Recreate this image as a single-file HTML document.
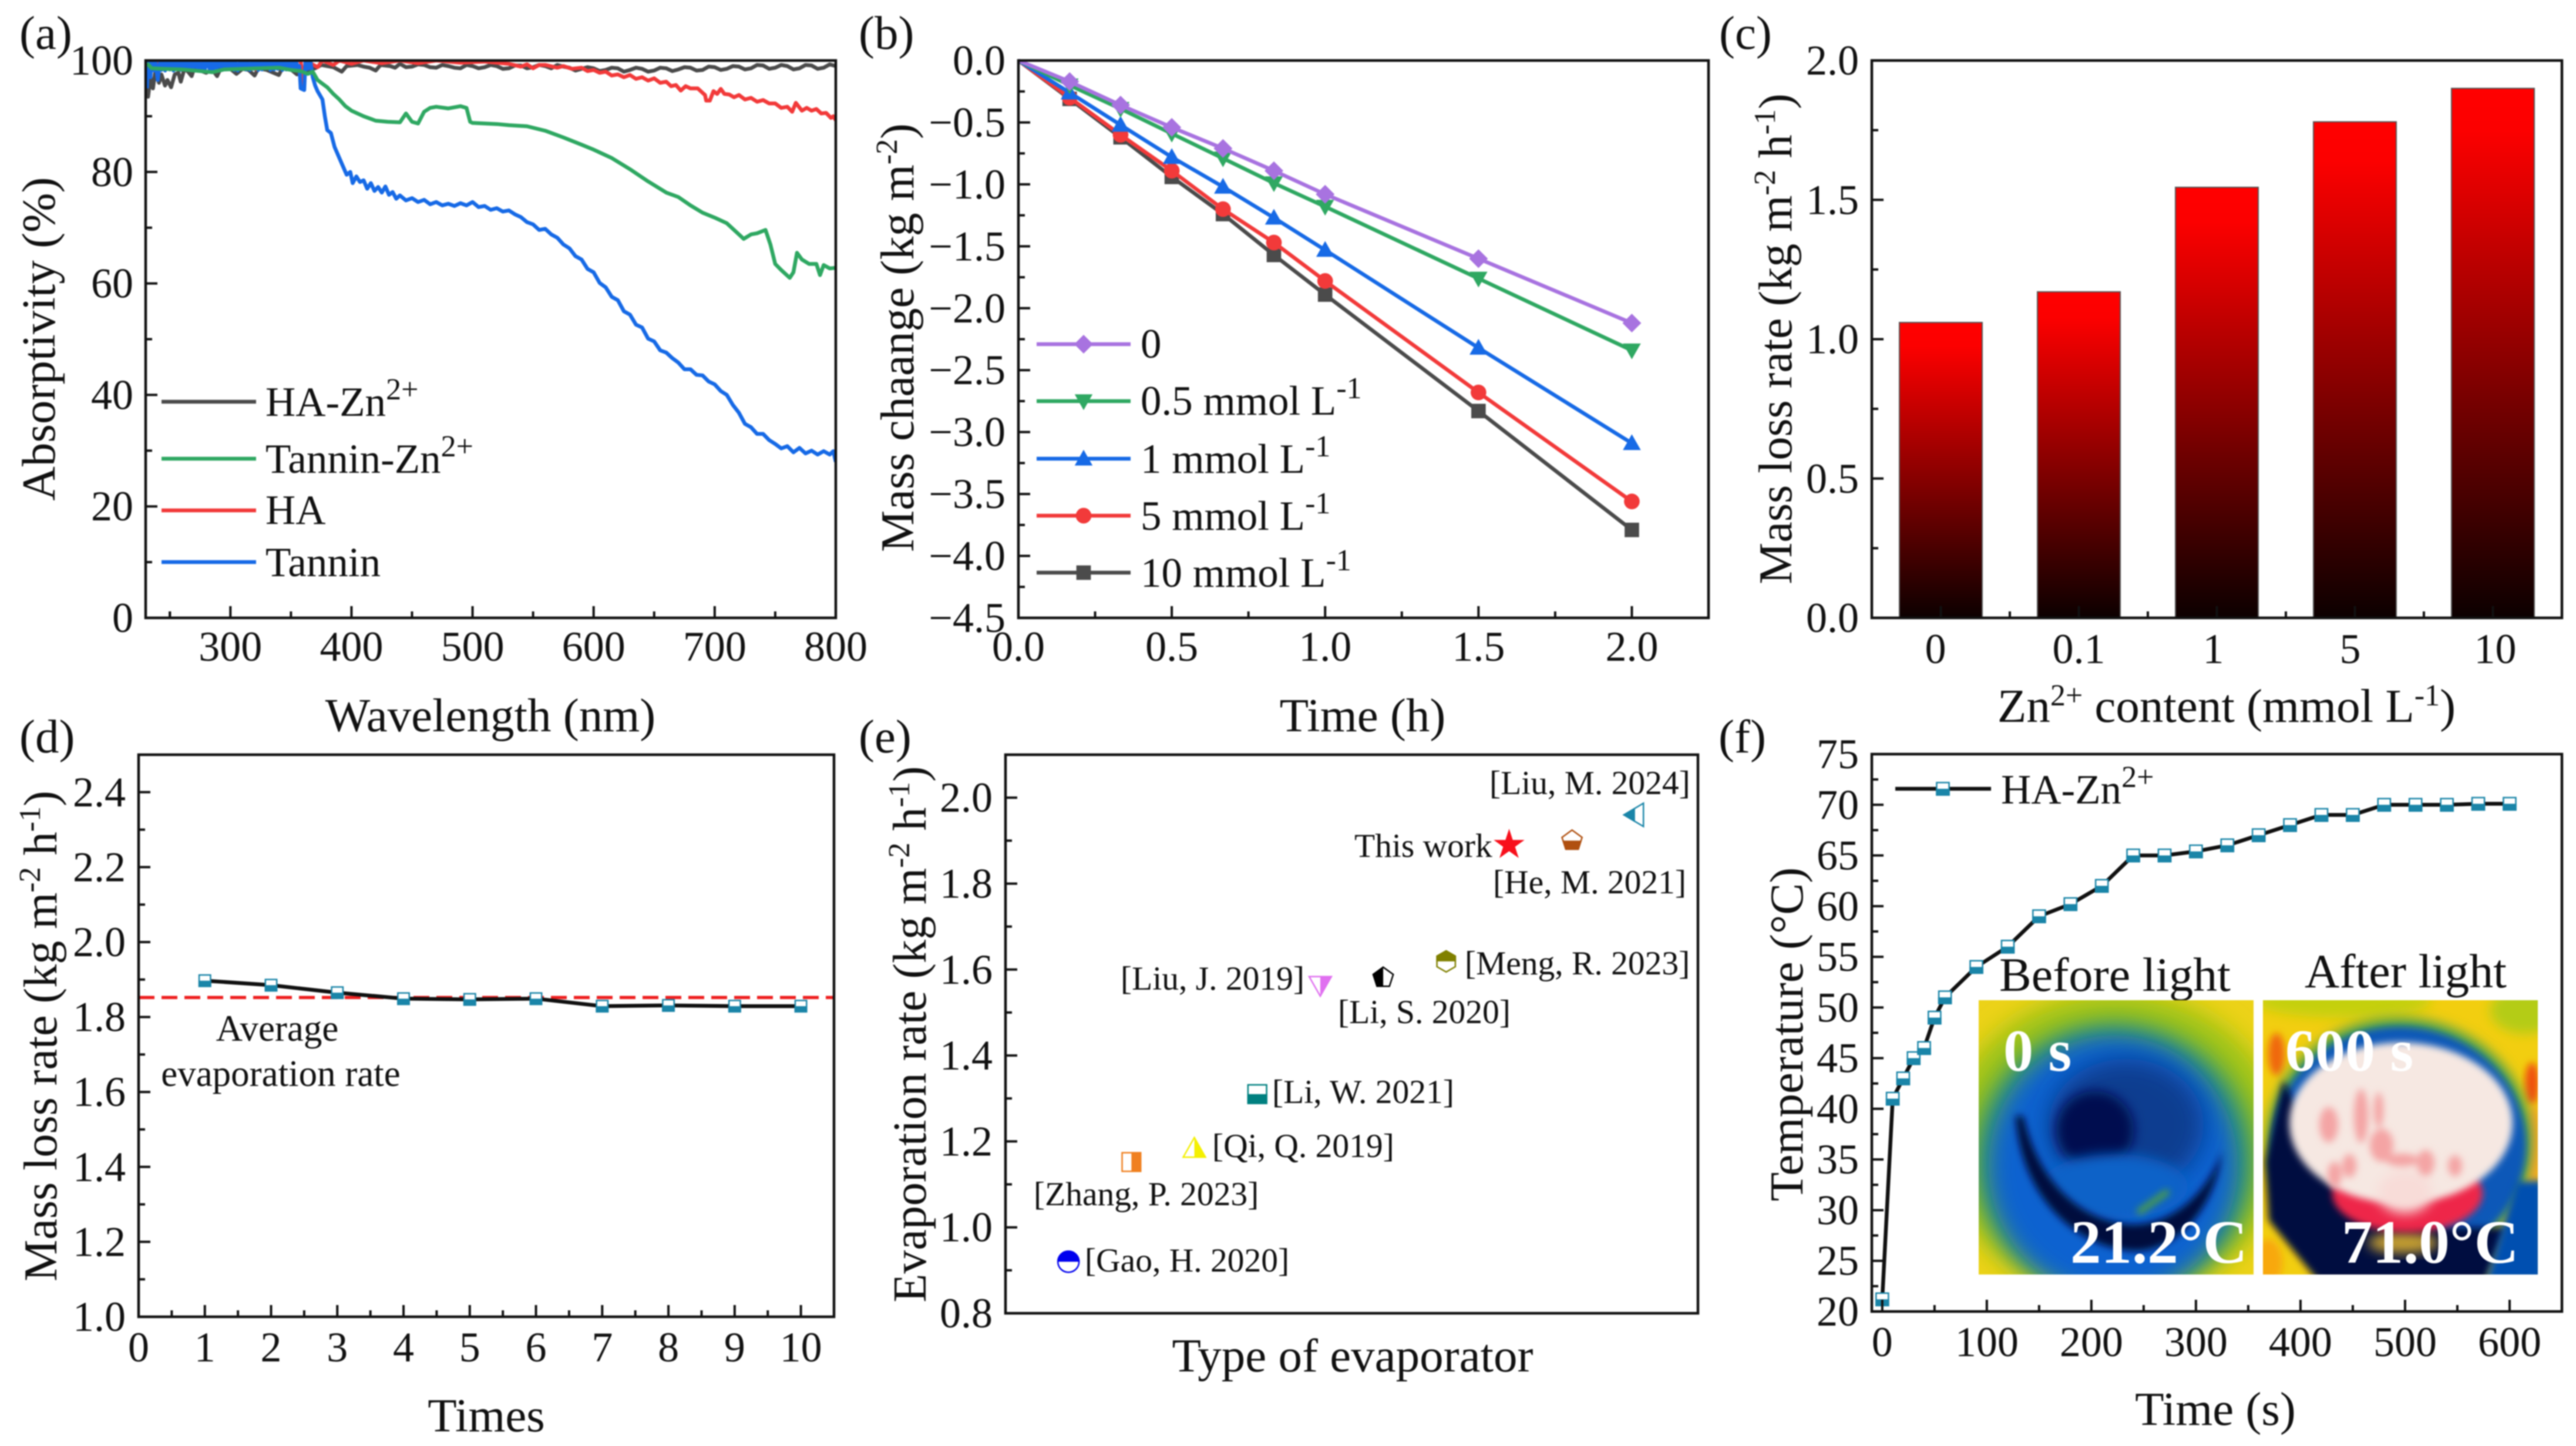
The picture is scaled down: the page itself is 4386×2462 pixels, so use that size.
<!DOCTYPE html>
<html lang="en">
<head>
<meta charset="utf-8">
<title>Evaporator performance figure</title>
<style>
html,body{margin:0;padding:0;background:#fff;width:4386px;height:2462px;overflow:hidden}
svg{display:block;font-family:"Liberation Serif",serif;fill:#111;filter:blur(1px)}
.t{font-size:81px}.s{font-size:52px}.l{font-size:71px}.e{font-size:57.5px}.a{font-size:63px}.h{font-size:105px;font-weight:bold;fill:#fff}
</style>
</head>
<body>
<svg id="chart-root" xmlns="http://www.w3.org/2000/svg" width="4386" height="2462" viewBox="0 0 4386 2462">
<defs>
<linearGradient id="barFill" x1="0" y1="0" x2="0" y2="1"><stop offset="0" stop-color="#ff0000"/><stop offset=".08" stop-color="#fc0000"/><stop offset="1" stop-color="#0c0000"/></linearGradient>
<filter id="b3" x="-30%" y="-30%" width="160%" height="160%"><feGaussianBlur stdDeviation="3"/></filter>
<filter id="b5" x="-30%" y="-30%" width="160%" height="160%"><feGaussianBlur stdDeviation="6"/></filter>
<filter id="b10" x="-30%" y="-30%" width="160%" height="160%"><feGaussianBlur stdDeviation="10"/></filter>
<filter id="b20" x="-30%" y="-30%" width="160%" height="160%"><feGaussianBlur stdDeviation="20"/></filter>
<clipPath id="clipBefore"><rect x="3369" y="1703" width="468" height="467"/></clipPath>
<clipPath id="clipAfter"><rect x="3853" y="1703" width="468" height="467"/></clipPath>
<clipPath id="clipA"><rect x="248" y="103" width="1175" height="949"/></clipPath>
</defs>
<rect width="4386" height="2462" fill="#fff"/>
<g id="marks"></g>

<!-- panel a text -->
<text class="t" x="33" y="83">(a)</text>
<text class="t" text-anchor="middle" transform="translate(93,577) rotate(-90)">Absorptivity (%)</text>
<text class="t" text-anchor="middle" x="835" y="1245">Wavelength (nm)</text>
<text class="l" x="452" y="708">HA-Zn<tspan class="s" dy="-28">2+</tspan></text>
<text class="l" x="452" y="805">Tannin-Zn<tspan class="s" dy="-28">2+</tspan></text>
<text class="l" x="452" y="892">HA</text>
<text class="l" x="452" y="981">Tannin</text>

<!-- panel b text -->
<text class="t" x="1462" y="83">(b)</text>
<text class="t" text-anchor="middle" transform="translate(1555,575) rotate(-90)" style="font-size:80px">Mass chaange (kg m<tspan class="s" dy="-28">-2</tspan><tspan dy="28">)</tspan></text>
<text class="t" text-anchor="middle" x="2320" y="1245">Time (h)</text>
<text class="l" x="1942" y="609">0</text>
<text class="l" x="1942" y="706">0.5 mmol L<tspan class="s" dy="-28">-1</tspan></text>
<text class="l" x="1942" y="805">1 mmol L<tspan class="s" dy="-28">-1</tspan></text>
<text class="l" x="1942" y="902">5 mmol L<tspan class="s" dy="-28">-1</tspan></text>
<text class="l" x="1942" y="999">10 mmol L<tspan class="s" dy="-28">-1</tspan></text>

<!-- panel c text -->
<text class="t" x="2927" y="83">(c)</text>
<text class="t" text-anchor="middle" transform="translate(3050,577) rotate(-90)" style="font-size:80px">Mass loss rate (kg m<tspan class="s" dy="-28">-2</tspan><tspan dy="28"> h</tspan><tspan class="s" dy="-28">-1</tspan><tspan dy="28">)</tspan></text>
<text class="t" text-anchor="middle" x="3791" y="1229">Zn<tspan class="s" dy="-28">2+</tspan><tspan dy="28"> content (mmol L</tspan><tspan class="s" dy="-28">-1</tspan><tspan dy="28">)</tspan></text>

<!-- panel d text -->
<text class="t" x="33" y="1281">(d)</text>
<text class="t" text-anchor="middle" transform="translate(96,1764) rotate(-90)" style="font-size:80px">Mass loss rate (kg m<tspan class="s" dy="-28">-2</tspan><tspan dy="28"> h</tspan><tspan class="s" dy="-28">-1</tspan><tspan dy="28">)</tspan></text>
<text class="t" text-anchor="middle" x="828" y="2437">Times</text>
<text class="a" text-anchor="middle" x="472" y="1772">Average</text>
<text class="a" text-anchor="middle" x="478" y="1849">evaporation rate</text>

<!-- panel e text -->
<text class="t" x="1462" y="1281">(e)</text>
<text class="t" text-anchor="middle" transform="translate(1576,1761) rotate(-90)" style="font-size:80px">Evaporation rate (kg m<tspan class="s" dy="-28">-2</tspan><tspan dy="28"> h</tspan><tspan class="s" dy="-28">-1</tspan><tspan dy="28">)</tspan></text>
<text class="t" text-anchor="middle" x="2303" y="2335">Type of evaporator</text>
<text class="e" x="2536" y="1352">[Liu, M. 2024]</text>
<text class="e" x="2306" y="1459">This work</text>
<text class="e" x="2542" y="1521">[He, M. 2021]</text>
<text class="e" x="2494" y="1659">[Meng, R. 2023]</text>
<text class="e" x="1908" y="1685">[Liu, J. 2019]</text>
<text class="e" x="2278" y="1742">[Li, S. 2020]</text>
<text class="e" x="2166" y="1878">[Li, W. 2021]</text>
<text class="e" x="2064" y="1970">[Qi, Q. 2019]</text>
<text class="e" x="1760" y="2052">[Zhang, P. 2023]</text>
<text class="e" x="1847" y="2165">[Gao, H. 2020]</text>

<!-- panel f text -->
<text class="t" x="2926" y="1281">(f)</text>
<text class="t" text-anchor="middle" transform="translate(3069,1761) rotate(-90)">Temperature (°C)</text>
<text class="t" text-anchor="middle" x="3772" y="2426">Time (s)</text>
<text class="l" x="3407" y="1368">HA-Zn<tspan class="s" dy="-28">2+</tspan></text>
<text class="t" x="3404" y="1687" style="font-size:82px">Before light</text>
<text class="t" x="3924" y="1681" style="font-size:82px">After light</text>

<!-- thermal images -->
<g clip-path="url(#clipBefore)">
<rect x="3369" y="1703" width="468" height="467" fill="#ecd218"/>
<ellipse cx="3601" cy="1950" rx="290" ry="262" fill="#a0c414" filter="url(#b20)"/>
<ellipse cx="3600" cy="1972" rx="240" ry="232" fill="#3f9f60" filter="url(#b20)"/>
<ellipse cx="3598" cy="1985" rx="212" ry="222" fill="#0a62d0" filter="url(#b20)"/>
<ellipse cx="3620" cy="1915" rx="132" ry="112" fill="#0a3e90" filter="url(#b20)"/>
<ellipse cx="3567" cy="1924" rx="66" ry="66" fill="#001050" filter="url(#b10)"/>
<ellipse cx="3600" cy="2020" rx="125" ry="55" fill="#0a62c8" filter="url(#b10)"/>
<path d="M3432 1900C3440 2040 3540 2130 3640 2130C3720 2125 3775 2040 3783 1960C3760 2030 3700 2085 3630 2085C3540 2080 3470 2010 3445 1900Z" fill="#00103c" filter="url(#b5)"/>
<path d="M3640 2065L3692 2028" fill="none" stroke="#50a040" stroke-width="10" filter="url(#b5)"/>
</g>
<text class="h" x="3411" y="1823" style="font-size:102px">0 s</text>
<text class="h" x="3525" y="2150">21.2°C</text>

<g clip-path="url(#clipAfter)">
<rect x="3853" y="1703" width="468" height="467" fill="#f2ce10"/>
<ellipse cx="3990" cy="1705" rx="150" ry="28" fill="#c4d010" filter="url(#b10)"/>
<ellipse cx="4300" cy="1720" rx="60" ry="40" fill="#b4cc14" filter="url(#b10)"/>
<ellipse cx="3876" cy="1795" rx="14" ry="36" fill="#f06810" filter="url(#b5)"/>
<ellipse cx="4311" cy="1845" rx="12" ry="36" fill="#f05010" filter="url(#b5)"/>
<ellipse cx="4314" cy="1950" rx="14" ry="70" fill="#f8a820" filter="url(#b5)"/>
<ellipse cx="3862" cy="2150" rx="24" ry="40" fill="#f8a810" filter="url(#b5)"/>
<ellipse cx="4085" cy="1945" rx="226" ry="212" fill="#48a050" filter="url(#b10)"/>
<ellipse cx="4085" cy="1950" rx="216" ry="202" fill="#0858b8" filter="url(#b5)"/>
<path d="M3888 1839L3857 1978L3863 2078L3946 2180L4233 2180L4270 2090L4150 2090L3950 1960Z" fill="#000840" filter="url(#b5)"/>
<path d="M4233 2180L4330 2180L4330 2010L4284 2012Z" fill="#0650b0" filter="url(#b5)"/>
<ellipse cx="4092" cy="2116" rx="60" ry="18" fill="#c8a030" filter="url(#b10)"/>
<ellipse cx="4099" cy="2032" rx="128" ry="66" fill="#ee2848" filter="url(#b5)"/>
<ellipse cx="4088" cy="1912" rx="190" ry="137" fill="#f6e8e2" filter="url(#b5)"/>
<ellipse cx="4095" cy="2030" rx="46" ry="36" fill="#f8dcd8" filter="url(#b10)"/>
<g fill="#f4a4a4" filter="url(#b5)">
<ellipse cx="3965" cy="1915" rx="16" ry="30"/><ellipse cx="4020" cy="1900" rx="12" ry="46"/><ellipse cx="4055" cy="1950" rx="20" ry="28"/><ellipse cx="4000" cy="1985" rx="12" ry="20"/><ellipse cx="4130" cy="1980" rx="15" ry="22"/><ellipse cx="3975" cy="2000" rx="12" ry="22"/><ellipse cx="4050" cy="1890" rx="8" ry="30"/><ellipse cx="4090" cy="1975" rx="28" ry="11"/><ellipse cx="4180" cy="1985" rx="12" ry="18"/>
</g>
</g>
<text class="h" x="3891" y="1823" style="font-size:102px">600 s</text>
<text class="h" x="3987" y="2150">71.0°C</text>
</svg>

<script>
// ---------- panel (a) data: [wavelength nm, absorptivity %] ----------
const haZnPoints = [[231,96],[232,93.5],[234,97],[236,95],[238,98],[241,96],[243,97.5],[246,95.5],[248,96.5],[251,95.2],[254,97.5],[257,97.8],[259,96.2],[262,98.5],[265,98],[268,97.2],[270,98.6],[275,98.2],[280,97.8],[285,98.4],[289,97.2],[292,98.6],[300,98.5],[305,97.6],[310,98.5],[315,98.3],[320,97.3],[323,98.6],[330,98.3],[340,97.4],[343,98.7],[350,98.4],[355,97.5],[360,98],[370,98.6],[375,99.2],[385,98.8],[392,98],[396,99],[405,99.2],[410,98.9],[415,98.7],[420,98.2],[424,99.2],[432,99],[436,98.7],[440,99.4],[445,98.8],[450,98.9],[455,99.3],[460,99.2],[465,98.8],[470,98.7],[475,99.2],[480,99],[485,98.7],[490,98.6],[495,99.2],[500,99],[505,98.6],[510,98.8],[515,99.2],[520,99],[525,98.5],[530,98.6],[535,99.1],[540,99.1],[545,98.6],[550,98.8],[555,99.2],[560,99],[565,98.6],[570,99.2],[575,98.9],[580,98.7],[585,98.2],[590,98.5],[595,98.8],[600,98.6],[605,98.1],[610,98.3],[615,98.7],[620,98.6],[625,98],[630,98.3],[635,98.7],[640,98.5],[645,98],[650,98.2],[655,98.7],[660,98.6],[665,98.1],[670,98.4],[675,98.8],[680,98.7],[685,98.2],[690,98.3],[695,98.9],[700,98.8],[705,98.3],[710,98.5],[715,99],[720,98.9],[725,98.4],[730,98.6],[735,99.2],[740,99.1],[745,98.5],[750,98.7],[755,99.2],[760,99],[765,98.4],[770,98.6],[775,99.2],[780,99.1],[785,98.5],[790,98.7],[795,99.3],[800,99]];
const haPoints = [[231,99],[250,100],[260,98.6],[264,100],[300,99.6],[322,98.4],[326,100],[358,100],[360,95],[362,100],[372,98.8],[376,100],[385,99.2],[390,100],[400,99.4],[410,100],[425,99.5],[440,100],[455,99.5],[470,100],[490,99.6],[510,99.8],[530,99.4],[540,98.9],[545,99.3],[550,98.6],[555,99.2],[560,99.2],[570,98.7],[575,99],[582,98.5],[590,98.7],[595,98.1],[600,98.3],[605,97.8],[610,98],[615,97.3],[620,97.5],[625,97],[630,97.4],[635,96.7],[640,97],[645,96.4],[650,96.8],[655,96],[660,96.2],[664,95.4],[668,95.6],[672,94.6],[676,95.4],[680,95],[686,95],[690,94.2],[692,93.8],[693,92.8],[696,92.8],[699,94.5],[702,94],[705,94.9],[708,94],[712,93.9],[716,93.4],[720,93.8],[725,93],[730,93.3],[735,92.6],[740,92.9],[745,92.3],[750,92.3],[755,91.5],[760,91.7],[764,90.8],[767,92.4],[772,91],[776,91.5],[780,91],[784,91.3],[788,90.5],[792,90.6],[796,89.7],[798,90],[800,89.3]];
const tanninPoints = [[231,95],[232,100],[234,97],[235,100],[237,98.2],[238,100],[240,96.5],[242,100],[243,98.3],[245,100],[246,98.2],[248,100],[250,98.4],[251,100],[253,98.2],[254,100],[256,98.5],[258,100],[259,98.3],[261,100],[263,98.4],[264,100],[266,98.3],[268,100],[269,98.5],[271,100],[273,98.3],[274,100],[276,98.2],[278,100],[279,98.5],[281,100],[283,98.3],[284,100],[286,98.4],[288,100],[289,98.6],[291,100],[293,98.3],[294,100],[296,98.4],[298,100],[299,98.5],[301,100],[303,98.3],[304,100],[306,98.2],[308,100],[309,98.5],[311,100],[313,98.4],[314,100],[316,98.3],[318,100],[319,98.5],[321,100],[323,98.3],[324,100],[326,98.4],[328,100],[329,98.6],[331,100],[333,98.3],[334,100],[336,98.4],[338,100],[339,98.5],[341,100],[343,98.3],[344,100],[346,98.4],[348,100],[349,98.5],[351,100],[353,98.4],[354,100],[356,98.6],[357,99],[358,95],[361,94.7],[362,100],[364,98.5],[366,100],[368,97],[370,95.5],[372,94.5],[376,93],[378,90],[380,87.5],[383,87],[386,84.5],[390,82.5],[393,81],[396,79.5],[399,80],[401,78],[404,79.2],[407,78.2],[410,78.5],[413,77],[416,78],[419,76.6],[422,77.3],[425,76.3],[428,77.4],[431,75.9],[434,76.4],[437,75.2],[440,75.8],[445,74.9],[450,75.3],[455,74.6],[460,75],[465,74.2],[470,74.6],[475,74],[480,74.3],[485,73.9],[490,74.4],[495,74],[500,74.6],[505,73.7],[510,73.9],[515,73.2],[520,73.5],[525,72.9],[530,73.1],[535,72.4],[540,71.9],[545,71],[550,70.6],[555,69.6],[560,69.8],[565,68.8],[570,68.2],[575,67],[580,66.3],[585,64.9],[590,64.3],[595,62.6],[600,62],[605,60.1],[610,59.3],[615,57.6],[620,57],[625,55],[630,54.4],[635,52.6],[640,52.1],[645,50.1],[650,49.6],[655,48],[660,47.6],[665,46.6],[670,45.8],[675,44.6],[680,44.6],[685,43.6],[690,43.5],[695,42.4],[700,41.9],[705,40.7],[710,40],[715,38.2],[720,36.8],[725,34.8],[730,34.2],[735,33],[740,33],[745,31.9],[750,31.2],[755,30.4],[760,30.8],[765,29.7],[770,30.5],[775,29.5],[780,30],[785,29.3],[790,29.9],[795,29.3],[798,29.9],[800,28]];
const tanninZnPoints = [[231,99.5],[235,98.6],[245,98.5],[260,98.4],[275,98.1],[285,97.9],[295,98.4],[310,98.5],[325,98.6],[340,98.7],[350,98.3],[358,98.1],[364,97.6],[368,98],[372,96.5],[375,96],[380,95.2],[385,94],[390,93],[395,91.8],[400,91],[405,90.5],[410,90],[420,89.2],[430,89],[440,88.9],[445,90.5],[450,89],[455,88.7],[460,90.8],[465,91.5],[470,91.7],[480,91.4],[490,91.8],[495,91.5],[498,89],[500,88.8],[520,88.6],[530,88.4],[545,88.2],[560,87.4],[575,86.2],[590,84.9],[600,84],[615,82.5],[630,80.5],[645,78.3],[660,76.3],[670,75.5],[680,74],[690,72.7],[700,71.8],[710,70.8],[720,68.8],[724,68],[730,68.8],[735,69],[742,69.6],[746,67],[750,63.5],[755,62.4],[762,61],[765,62],[768,65.5],[772,64.3],[778,63.5],[784,63.5],[787,61.5],[790,63.3],[795,62.7],[800,62.8]];
const aXTicks = [300,400,500,600,700,800];
const aYTicks = [0,20,40,60,80,100];

// ---------- panel (b) data ----------
const bTimes = [0,0.167,0.333,0.5,0.667,0.833,1,1.5,2];
const bSeries0 = [0,-0.17,-0.36,-0.54,-0.71,-0.89,-1.08,-1.60,-2.12];
const bSeries05 = [0,-0.20,-0.39,-0.59,-0.79,-0.99,-1.18,-1.76,-2.34];
const bSeries1 = [0,-0.26,-0.52,-0.78,-1.02,-1.27,-1.53,-2.32,-3.09];
const bSeries5 = [0,-0.30,-0.60,-0.89,-1.20,-1.47,-1.78,-2.68,-3.56];
const bSeries10 = [0,-0.31,-0.62,-0.94,-1.24,-1.57,-1.89,-2.83,-3.79];
const bXTicks = [0,0.5,1,1.5,2];
const bYTicks = [0,-0.5,-1,-1.5,-2,-2.5,-3,-3.5,-4,-4.5];

// ---------- panel (c) data ----------
const cCategories = ['0','0.1','1','5','10'];
const cRates = [1.06,1.17,1.545,1.78,1.90];
const cYTicks = [0,0.5,1,1.5,2];
// label placement tweak, separate from the data
const cLabelNudge = [-9,0,-6,-8,4];

// ---------- panel (d) data ----------
const dTimes = [1,2,3,4,5,6,7,8,9,10];
const dRates = [1.897,1.885,1.865,1.849,1.847,1.849,1.829,1.831,1.829,1.829];
const dAverage = [1.852];
const dXTicks = [0,1,2,3,4,5,6,7,8,9,10];
const dYTicks = [1,1.2,1.4,1.6,1.8,2,2.2,2.4];

// ---------- panel (e) data ----------
const eOrder = [1,2,3,4,5,6,7,8,9,10];
const eRates = [0.92,1.152,1.183,1.31,1.564,1.581,1.619,1.89,1.90,1.96];
const eYTicks = [0.8,1,1.2,1.4,1.6,1.8,2];

// ---------- panel (f) data ----------
const fTimes = [0,10,20,30,40,50,60,90,120,150,180,210,240,270,300,330,360,390,420,450,480,510,540,570,600];
const fTemps = [21.2,41,43,45,46,49,51,54,56,59,60.2,62,65,65,65.4,66,67,68,69,69,70,70,70,70.1,70.1];
const fXTicks = [0,100,200,300,400,500,600];
const fYTicks = [20,25,30,35,40,45,50,55,60,65,70,75];

// ---------- helpers ----------
const NS = 'http://www.w3.org/2000/svg';
const marks = document.getElementById('marks');
function mk(tagName, attrs, parent) {
  const node = document.createElementNS(NS, tagName);
  for (const k in attrs) node.setAttribute(k, attrs[k]);
  (parent || marks).appendChild(node);
  return node;
}
function makePanel(l, r, t, b, xd, yd) {
  return {l, r, t, b,
    x: v => l + (v - xd[0]) / (xd[1] - xd[0]) * (r - l),
    y: v => b - (v - yd[0]) / (yd[1] - yd[0]) * (b - t)};
}
function tickMark(p, axis, v, len) {
  const a = axis === 'x'
    ? {x1: p.x(v), x2: p.x(v), y1: p.b, y2: p.b - len}
    : {x1: p.l, x2: p.l + len, y1: p.y(v), y2: p.y(v)};
  a.stroke = '#111';
  a['stroke-width'] = 4;
  const el = mk('line', a);
  
  
}
function tickText(x, y, str, anchor) {
  const el = mk('text', {x, y, 'text-anchor': anchor, 'font-size': 72});
  el.textContent = str;
  
  
}
function drawFrame(p, name) {
  const el = mk('rect', {x: p.l, y: p.t, width: p.r - p.l, height: p.b - p.t, fill: 'none', stroke: '#111', 'stroke-width': 4.5});
  
  
}
// major ticks with labels, minor ticks halfway between neighbouring majors
function drawAxis(p, axis, ticks, fmt, labelPos) {
  const step = ticks[1] - ticks[0];
  ticks.forEach(v => {
    tickMark(p, axis, v, 20);
    if (axis === 'x') tickText(p.x(v), labelPos, fmt(v), 'middle');
    else tickText(labelPos, p.y(v) + 24, fmt(v), 'end');
  });
  const last = ticks[ticks.length - 1];
  ticks.concat([last + step]).forEach(v => {
    const m = v - step / 2;
    const px = axis === 'x' ? p.x(m) : p.y(m);
    const inside = axis === 'x' ? (px > p.l + 2 && px < p.r - 2) : (px > p.t + 2 && px < p.b - 2);
    if (inside) tickMark(p, axis, m, 11);
  });
}
const f0 = v => String(v);
const f1 = v => v.toFixed(1);
const fMinus = v => (v < 0 ? '\u2212' : '') + Math.abs(v).toFixed(1);

function drawLine(pts, stroke, width, name, clip, extra) {
  const a = {d: 'M' + pts.map(q => q[0].toFixed(1) + ' ' + q[1].toFixed(1)).join('L'), fill: 'none', stroke, 'stroke-width': width, 'stroke-linejoin': 'round'};
  if (clip) a['clip-path'] = clip;
  if (extra) Object.assign(a, extra);
  const el = mk('path', a);
  
  
  return el;
}
function shapePoints(shape, cx, cy, r) {
  const table = {
    diamond: [[0,-1.1],[1.1,0],[0,1.1],[-1.1,0]],
    triUp: [[0,-1.05],[1.05,0.8],[-1.05,0.8]],
    triDown: [[0,1.05],[1.05,-0.8],[-1.05,-0.8]],
    triLeft: [[-1.05,0],[0.8,-1.1],[0.8,1.1]],
    pentagon: [[0,-1],[0.95,-0.31],[0.59,0.81],[-0.59,0.81],[-0.95,-0.31]],
    hexagon: [[0,-1],[0.87,-0.5],[0.87,0.5],[0,1],[-0.87,0.5],[-0.87,-0.5]],
    star: [[0,-1.2],[0.27,-0.37],[1.14,-0.37],[0.44,0.14],[0.71,0.97],[0,0.46],[-0.71,0.97],[-0.44,0.14],[-1.14,-0.37],[-0.27,-0.37]]
  };
  return table[shape].map(q => (cx + q[0] * r).toFixed(1) + ',' + (cy + q[1] * r).toFixed(1)).join(' ');
}
function drawMarker(shape, cx, cy, r, color, name) {
  let el;
  if (shape === 'circle') el = mk('circle', {cx, cy, r: r * 0.92, fill: color});
  else if (shape === 'square') el = mk('rect', {x: cx - r * 0.85, y: cy - r * 0.85, width: r * 1.7, height: r * 1.7, fill: color});
  else el = mk('polygon', {points: shapePoints(shape, cx, cy, r), fill: color});
  
  
}
let clipCounter = 0;
function halfMarker(shape, half, cx, cy, r, color, name) {
  const group = mk('g', {});
  
  
  const base = {fill: '#fff', stroke: color, 'stroke-width': 2.5};
  let outline;
  if (shape === 'circle') outline = () => ['circle', {cx, cy, r}];
  else if (shape === 'square') outline = () => ['rect', {x: cx - r * 0.88, y: cy - r * 0.88, width: r * 1.76, height: r * 1.76}];
  else outline = () => ['polygon', {points: shapePoints(shape, cx, cy, r)}];
  const o1 = outline();
  mk(o1[0], Object.assign({}, o1[1], base), group);
  const id = 'halfClip' + (clipCounter++);
  const cp = mk('clipPath', {id}, group);
  const R = r * 1.4;
  const rects = {
    top: {x: cx - R, y: cy - R, width: 2 * R, height: R},
    bottom: {x: cx - R, y: cy, width: 2 * R, height: R},
    left: {x: cx - R, y: cy - R, width: R, height: 2 * R},
    right: {x: cx, y: cy - R, width: R, height: 2 * R}
  };
  mk('rect', rects[half], cp);
  const o2 = outline();
  mk(o2[0], Object.assign({}, o2[1], {fill: color, stroke: color, 'stroke-width': 2.5, 'clip-path': 'url(#' + id + ')'}), group);
}

// ---------- panel (a) ----------
const pa = makePanel(248, 1423, 103, 1052, [230, 800], [0, 100]);
const aColors = {grey: '#4b4b4b', green: '#2fa862', red: '#f23a3a', blue: '#176ae6'};
[[haZnPoints, aColors.grey, 'ha-zn-curve'], [haPoints, aColors.red, 'ha-curve'], [tanninPoints, aColors.blue, 'tannin-curve'], [tanninZnPoints, aColors.green, 'tannin-zn-curve']].forEach(s => {
  drawLine(s[0].map(q => [pa.x(q[0]), pa.y(q[1])]), s[1], 6.5, s[2], 'url(#clipA)');
});
drawFrame(pa, 'a');
drawAxis(pa, 'x', aXTicks, f0, 1125);
tickMark(pa, 'x', 250, 11);
drawAxis(pa, 'y', aYTicks, f0, 227);
[[684, aColors.grey, 'a-legend-line-ha-zn'], [781, aColors.green, 'a-legend-line-tannin-zn'], [869, aColors.red, 'a-legend-line-ha'], [957, aColors.blue, 'a-legend-line-tannin']].forEach(l => {
  drawLine([[275, l[0]], [436, l[0]]], l[1], 6.5, l[2]);
});

// ---------- panel (b) ----------
const pb = makePanel(1734, 2909, 103, 1052, [0, 2.25], [-4.5, 0]);
const bDefs = [
  [bSeries10, '#4b4b4b', 'square', '10-mmol'],
  [bSeries5, '#f23a3a', 'circle', '5-mmol'],
  [bSeries1, '#176ae6', 'triUp', '1-mmol'],
  [bSeries05, '#2fa862', 'triDown', '0-5-mmol'],
  [bSeries0, '#a873e0', 'diamond', '0-mmol']
];
bDefs.forEach(s => {
  drawLine(bTimes.map((t, i) => [pb.x(t), pb.y(s[0][i])]), s[1], 6.5, 'line-' + s[3]);
  bTimes.forEach((t, i) => {
    if (i > 0) drawMarker(s[2], pb.x(t), pb.y(s[0][i]), 14.5, s[1], 'point-' + s[3]);
  });
});
drawFrame(pb, 'b');
drawAxis(pb, 'x', bXTicks, f1, 1125);
drawAxis(pb, 'y', bYTicks.slice().reverse(), fMinus, 1712);
[[586, 4], [683, 3], [781, 2], [878, 1], [975, 0]].forEach(l => {
  const s = bDefs[l[1]];
  drawLine([[1765, l[0]], [1925, l[0]]], s[1], 6.5, 'b-legend-line-' + s[3]);
  drawMarker(s[2], 1845, l[0], 14.5, s[1], 'b-legend-marker-' + s[3]);
});

// ---------- panel (c) ----------
const pc = makePanel(3187, 4362, 103, 1052, [0.5, 5.5], [0, 2]);
cRates.forEach((v, i) => {
  const c = i + 1;
  const bar = mk('rect', {x: pc.x(c - 0.3), y: pc.y(v), width: pc.x(c + 0.3) - pc.x(c - 0.3), height: pc.b - pc.y(v), fill: 'url(#barFill)', stroke: '#555', 'stroke-width': 2});
  
  
  tickText(pc.x(c) + cLabelNudge[i], 1129, cCategories[i], 'middle');
  tickMark(pc, 'x', c, 20);
  if (i < cRates.length - 1) tickMark(pc, 'x', c + 0.5, 11);
});
drawFrame(pc, 'c');
drawAxis(pc, 'y', cYTicks, f1, 3165);

// ---------- panel (d) ----------
const pd = makePanel(236, 1420, 1285, 2242, [0, 10.5], [1, 2.5]);
drawLine([[pd.l, pd.y(dAverage[0])], [pd.r, pd.y(dAverage[0])]], '#ee2020', 5.5, 'average-rate-line', null, {'stroke-dasharray': '27 12'});
drawLine(dTimes.map((t, i) => [pd.x(t), pd.y(dRates[i])]), '#111', 6.5, 'rate-line');
dTimes.forEach((t, i) => {
  halfMarker('square', 'bottom', pd.x(t), pd.y(dRates[i]), 11, '#1a85a8', 'rate-point');
});
drawFrame(pd, 'd');
drawAxis(pd, 'x', dXTicks, f0, 2318);
drawAxis(pd, 'y', dYTicks, f1, 214);

// ---------- panel (e) ----------
const pe = makePanel(1712, 2891, 1285, 2236, [0, 11], [0.8, 2.1]);
const eStyles = [
  ['circle', 'top', '#0000ee', 'gao'],
  ['square', 'right', '#f08020', 'zhang'],
  ['triUp', 'right', '#f4f000', 'qi'],
  ['square', 'bottom', '#008080', 'li-w'],
  ['triDown', 'right', '#e070f0', 'liu-j'],
  ['pentagon', 'left', '#000000', 'li-s'],
  ['hexagon', 'top', '#808000', 'meng'],
  ['star', null, '#f8101c', 'this-work'],
  ['pentagon', 'bottom', '#b05010', 'he'],
  ['triLeft', 'left', '#1a85a8', 'liu-m']
];
eOrder.forEach((o, i) => {
  const st = eStyles[i];
  if (st[1]) halfMarker(st[0], st[1], pe.x(o), pe.y(eRates[i]), 18, st[2], 'point-' + st[3]);
  else drawMarker(st[0], pe.x(o), pe.y(eRates[i]), 23, st[2], 'point-' + st[3]);
});
drawFrame(pe, 'e');
drawAxis(pe, 'y', eYTicks, f1, 1690);

// ---------- panel (f) ----------
const pf = makePanel(3187, 4362, 1284, 2233, [-10, 650], [20, 75]);
drawLine(fTimes.map((t, i) => [pf.x(t), pf.y(fTemps[i])]), '#111', 6.5, 'temperature-line');
fTimes.forEach((t, i) => {
  halfMarker('square', 'bottom', pf.x(t), pf.y(fTemps[i]), 12, '#1a85a8', 'temperature-point');
});
drawFrame(pf, 'f');
drawAxis(pf, 'x', fXTicks, f0, 2309);
drawAxis(pf, 'y', fYTicks, f0, 3165);
drawLine([[3227, 1343], [3390, 1343]], '#111', 6.5, 'f-legend-line');
halfMarker('square', 'bottom', 3308, 1343, 12, '#1a85a8', 'f-legend-marker');
</script>
</body>
</html>
